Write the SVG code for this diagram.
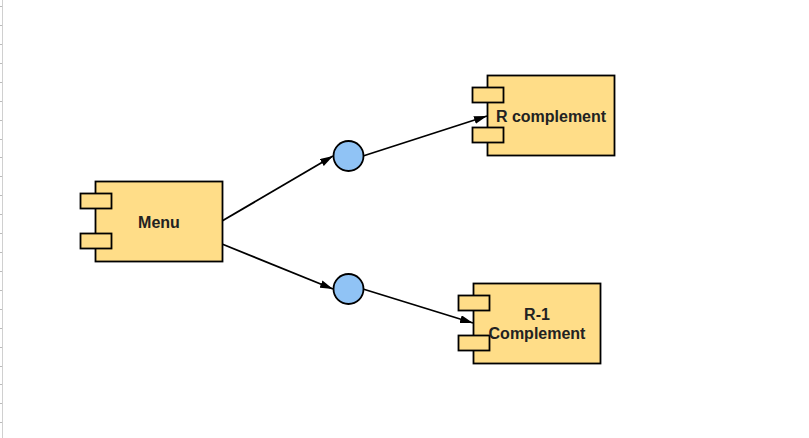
<svg xmlns="http://www.w3.org/2000/svg" width="809" height="438" viewBox="0 0 809 438">
<style>
.body{fill:#ffdd88;stroke:#000;stroke-width:1.8}
.port{fill:#ffdd88;stroke:#000;stroke-width:1.8}
.iface{fill:#90c3f5;stroke:#000;stroke-width:1.8}
.lbl{font-family:"Liberation Sans",Arial,sans-serif;font-size:16px;font-weight:bold;fill:#222;text-anchor:middle}
.edge{stroke:#000;stroke-width:1.8;fill:none}
.tick{stroke:#bbb;stroke-width:1}
</style>
<defs>
<marker id="arr" markerWidth="13" markerHeight="8" refX="13" refY="4" orient="auto" markerUnits="userSpaceOnUse">
<path d="M0,0 L13,4 L0,8 Z" fill="#000"/>
</marker>
</defs>
<rect width="809" height="438" fill="#fff"/>
<g id="ruler">
<line x1="2.5" y1="0" x2="2.5" y2="438" stroke="#d0d0d0" stroke-width="1"/>
<path class="tick" d="M0,6.5H2 M0,25.5H2 M0,44.5H2 M0,63.5H2 M0,82.5H2 M0,101.5H2 M0,120.5H2 M0,139.5H2 M0,157.5H2 M0,176.5H2 M0,195.5H2 M0,214.5H2 M0,233.5H2 M0,252.5H2 M0,271.5H2 M0,290.5H2 M0,309.5H2 M0,328.5H2 M0,347.5H2 M0,366.5H2 M0,384.5H2 M0,403.5H2 M0,422.5H2"/>
</g>
<g id="connectors">
<line class="edge" x1="222" y1="221" x2="333" y2="156" marker-end="url(#arr)"/>
<line class="edge" x1="363" y1="156" x2="487" y2="116" marker-end="url(#arr)"/>
<line class="edge" x1="222" y1="244" x2="333" y2="289" marker-end="url(#arr)"/>
<line class="edge" x1="363" y1="289" x2="473" y2="323" marker-end="url(#arr)"/>
</g>
<g id="menu">
<rect class="body" x="95.5" y="181.5" width="127" height="80"/>
<rect class="port" x="80.5" y="193.5" width="31" height="15"/>
<rect class="port" x="80.5" y="233.5" width="31" height="15"/>
<text class="lbl" x="159" y="227.5">Menu</text>
</g>
<g id="rcomplement">
<rect class="body" x="487.5" y="75.5" width="127" height="80"/>
<rect class="port" x="472.5" y="87.5" width="31" height="15"/>
<rect class="port" x="472.5" y="127.5" width="31" height="15"/>
<text class="lbl" x="551" y="121.5">R complement</text>
</g>
<g id="r1complement">
<rect class="body" x="473.5" y="283.5" width="127" height="80"/>
<rect class="port" x="458.5" y="295.5" width="31" height="15"/>
<rect class="port" x="458.5" y="335.5" width="31" height="15"/>
<text class="lbl" x="537" y="320">R-1</text>
<text class="lbl" x="537" y="339">Complement</text>
</g>
<g id="iface1"><circle class="iface" cx="348.5" cy="156" r="15"/></g>
<g id="iface2"><circle class="iface" cx="348.5" cy="289" r="15"/></g>
</svg>
